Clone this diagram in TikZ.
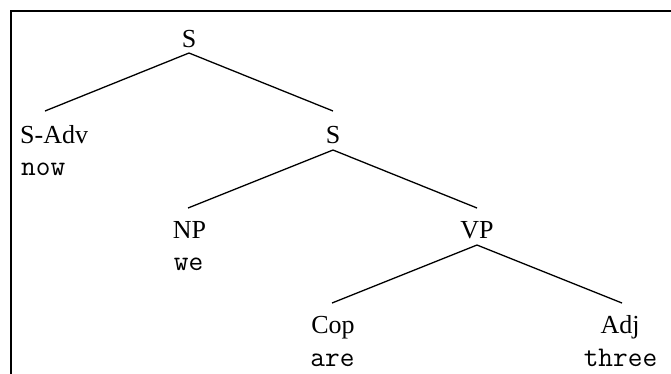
\documentclass[tikz,border=0pt]{standalone}
\usepackage{fontspec}
\setmainfont{Liberation Serif}
\begin{document}
\begin{tikzpicture}[x=1pt,y=-1pt,
  cat/.style={inner sep=0pt,font=\fontsize{26}{30}\selectfont},
  word/.style={inner sep=0pt,font=\ttfamily\fontsize{28.5}{32}\selectfont},
  edge/.style={line width=1.3pt}]
\useasboundingbox (0,0) rectangle (671,373);
\fill[white] (0,0) rectangle (671,373);
\draw[line width=2.4pt] (11,420) -- (11,11) -- (720,11);
% labels
\node[cat,anchor=base] (s1) at (189,47) {S};
\node[cat,anchor=base west] (sadv) at (20,143) {S-Adv};
\node[word,anchor=base west] (now) at (21,175) {now};
\node[cat,anchor=base] (s2) at (333,143) {S};
\node[cat,anchor=base] (np) at (189.5,238) {NP};
\node[word,anchor=base] (we) at (188.5,270) {we};
\node[cat,anchor=base] (vp) at (477,238) {VP};
\node[cat,anchor=base] (cop) at (333,333) {Cop};
\node[word,anchor=base] (are) at (332.5,366) {are};
\node[cat,anchor=base] (adj) at (620,333) {Adj};
\node[word,anchor=base] (three) at (620.5,366) {three};
% connector points
\coordinate (s1b) at (189,53);
\coordinate (sadvt) at (45,111);
\coordinate (s2t) at (333,111);
\coordinate (s2b) at (333,150);
\coordinate (npt) at (188,208);
\coordinate (vpt) at (477,208);
\coordinate (vpb) at (477,245);
\coordinate (copt) at (332,303);
\coordinate (adjt) at (622,303);
\draw[edge] (sadvt) -- (s1b) -- (s2t);
\draw[edge] (npt) -- (s2b) -- (vpt);
\draw[edge] (copt) -- (vpb) -- (adjt);
\end{tikzpicture}
\end{document}
